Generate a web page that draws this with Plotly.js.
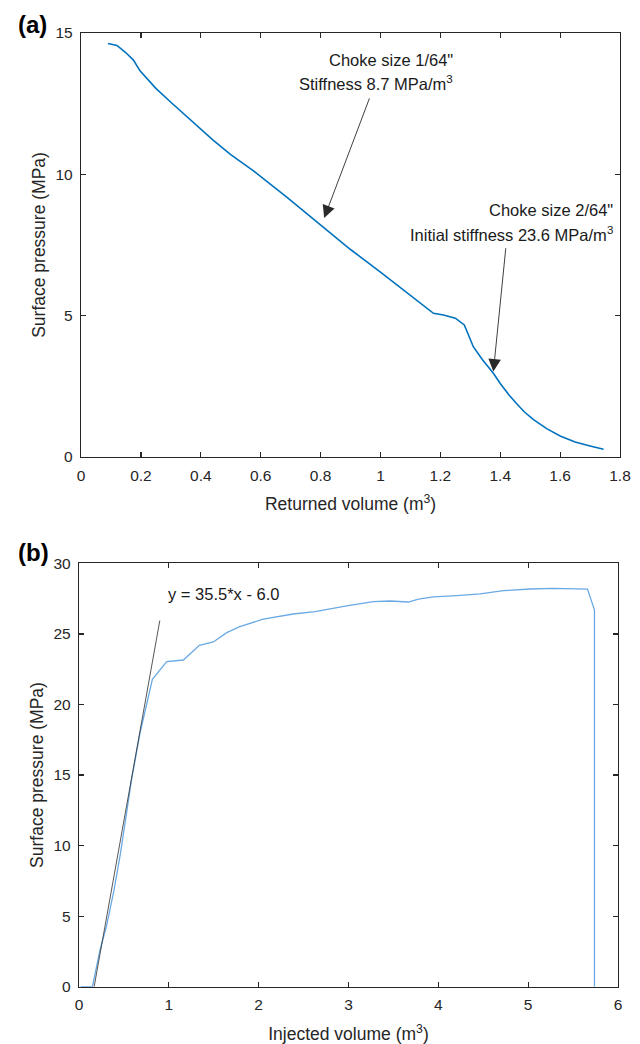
<!DOCTYPE html>
<html>
<head>
<meta charset="utf-8">
<script src="https://cdn.plot.ly/plotly-3.0.1.min.js"></script>
<style>
  html, body { margin: 0; padding: 0; background: #fff; }
  #chart { width: 640px; height: 1044px; }
</style>
</head>
<body>
<div id="chart"></div>
<script>
// (a) Flow-back: surface pressure vs returned volume
const returnedVolume = [0.09, 0.12, 0.15, 0.175, 0.197, 0.25, 0.30, 0.336, 0.39, 0.44, 0.50, 0.576, 0.687, 0.80, 0.90, 1.0, 1.1, 1.177, 1.21, 1.25, 1.28, 1.31, 1.34, 1.377, 1.40, 1.43, 1.455, 1.48, 1.51, 1.555, 1.60, 1.65, 1.70, 1.745];
const returnedPressure = [14.63, 14.56, 14.3, 14.04, 13.66, 13.04, 12.55, 12.21, 11.69, 11.22, 10.70, 10.12, 9.19, 8.2, 7.34, 6.54, 5.72, 5.08, 5.02, 4.91, 4.67, 3.90, 3.45, 2.96, 2.60, 2.18, 1.88, 1.60, 1.33, 1.00, 0.74, 0.53, 0.39, 0.27];

// (b) Injection: surface pressure vs injected volume
const injectedVolume = [0.02, 0.15, 0.234, 0.305, 0.39, 0.462, 0.585, 0.679, 0.817, 0.977, 1.162, 1.34, 1.496, 1.645, 1.79, 2.05, 2.386, 2.628, 2.98, 3.277, 3.463, 3.667, 3.779, 3.946, 4.206, 4.466, 4.725, 5.022, 5.282, 5.542, 5.66, 5.738, 5.738];
const injectedPressure = [0, 0, 2.6, 4.25, 6.85, 9.45, 14.65, 17.96, 21.78, 23.03, 23.15, 24.19, 24.43, 25.09, 25.51, 26.04, 26.41, 26.58, 26.98, 27.28, 27.33, 27.26, 27.47, 27.62, 27.71, 27.83, 28.06, 28.18, 28.23, 28.16, 28.18, 26.70, 0];

// Linear fit of the early injection segment: y = 35.5*x - 6.0
const fitSlope = 35.5;
const fitIntercept = -6.0;
const fitVolume = [0.169, 0.9];
const fitPressure = fitVolume.map(v => fitSlope * v + fitIntercept);

// Tick values
const aXTicks = [0, 0.2, 0.4, 0.6, 0.8, 1, 1.2, 1.4, 1.6, 1.8];
const aYTicks = [0, 5, 10, 15];
const bXTicks = [0, 1, 2, 3, 4, 5, 6];
const bYTicks = [0, 5, 10, 15, 20, 25, 30];

const FONT = 'Liberation Sans, Arial, Helvetica, sans-serif';
const INK = '#262626';

function axisStyle(extra) {
  return Object.assign({
    showline: true, linecolor: INK, linewidth: 1.2, mirror: 'ticks',
    ticks: 'inside', ticklen: 5, tickwidth: 1.2, tickcolor: INK,
    showgrid: false, zeroline: false, automargin: false,
    tickfont: { family: FONT, size: 15.5, color: INK },
    ticklabelstandoff: 4
  }, extra);
}

const titleFont = { family: FONT, size: 17.5, color: INK };

const traces = [
  { x: returnedVolume, y: returnedPressure, xaxis: 'x', yaxis: 'y', mode: 'lines',
    line: { color: '#0072BD', width: 1.6 }, hoverinfo: 'skip' },
  { x: injectedVolume, y: injectedPressure, xaxis: 'x2', yaxis: 'y2', mode: 'lines',
    line: { color: '#6aaae4', width: 1.3 }, hoverinfo: 'skip' },
  { x: fitVolume, y: fitPressure, xaxis: 'x2', yaxis: 'y2', mode: 'lines',
    line: { color: '#2b2b2b', width: 0.8 }, hoverinfo: 'skip' }
];

const txt = (x, y, text, xref, yref, anchor) => ({
  x, y, xref, yref, text, showarrow: false, xanchor: anchor, yanchor: 'middle',
  font: { family: FONT, size: 16.5, color: '#1a1a1a' }
});

const arrow = (x, y, ax, ay) => ({
  x, y, ax, ay, xref: 'x', yref: 'y', axref: 'x', ayref: 'y', text: '',
  showarrow: true, arrowhead: 2, arrowsize: 2.8, arrowwidth: 0.9, arrowcolor: '#2a2a2a'
});

const layout = {
  width: 640, height: 1044,
  margin: { l: 0, r: 0, t: 0, b: 0 },
  paper_bgcolor: '#fff', plot_bgcolor: '#fff',
  showlegend: false,
  xaxis: axisStyle({ domain: [0.1266, 0.9688], anchor: 'y', range: [0, 1.8], tickvals: aXTicks,
    title: { text: 'Returned volume (m<sup>3</sup>)', font: titleFont, standoff: 15 } }),
  yaxis: axisStyle({ domain: [0.5623, 0.9684], anchor: 'x', range: [0, 15], tickvals: aYTicks,
    title: { text: 'Surface pressure (MPa)', font: titleFont, standoff: 5 } }),
  xaxis2: axisStyle({ domain: [0.1234, 0.9656], anchor: 'y2', range: [0, 6], tickvals: bXTicks,
    title: { text: 'Injected volume (m<sup>3</sup>)', font: titleFont, standoff: 15 } }),
  yaxis2: axisStyle({ domain: [0.0549, 0.4604], anchor: 'x2', range: [0, 30], tickvals: bYTicks,
    title: { text: 'Surface pressure (MPa)', font: titleFont, standoff: 5 } }),
  annotations: [
    { x: 16 / 640, y: 1 - 25 / 1044, xref: 'paper', yref: 'paper', text: '<b>(a)</b>', showarrow: false,
      xanchor: 'left', yanchor: 'middle', font: { family: FONT, size: 24, color: '#000' } },
    { x: 16 / 640, y: 1 - 552 / 1044, xref: 'paper', yref: 'paper', text: '<b>(b)</b>', showarrow: false,
      xanchor: 'left', yanchor: 'middle', font: { family: FONT, size: 24, color: '#000' } },
    txt(1.25, 14.05, 'Choke size 1/64"', 'x', 'y', 'right'),
    txt(1.25, 13.22, 'Stiffness 8.7 MPa/m<sup>3</sup>', 'x', 'y', 'right'),
    arrow(0.812, 8.45, 0.965, 12.74),
    txt(1.783, 8.72, 'Choke size 2/64"', 'x', 'y', 'right'),
    txt(1.783, 7.88, 'Initial stiffness 23.6 MPa/m<sup>3</sup>', 'x', 'y', 'right'),
    arrow(1.377, 3.02, 1.419, 7.44),
    txt(0.97, 27.8, 'y = 35.5*x - 6.0', 'x2', 'y2', 'left')
  ]
};

Plotly.newPlot('chart', traces, layout, { staticPlot: true, displayModeBar: false });
</script>
</body>
</html>
